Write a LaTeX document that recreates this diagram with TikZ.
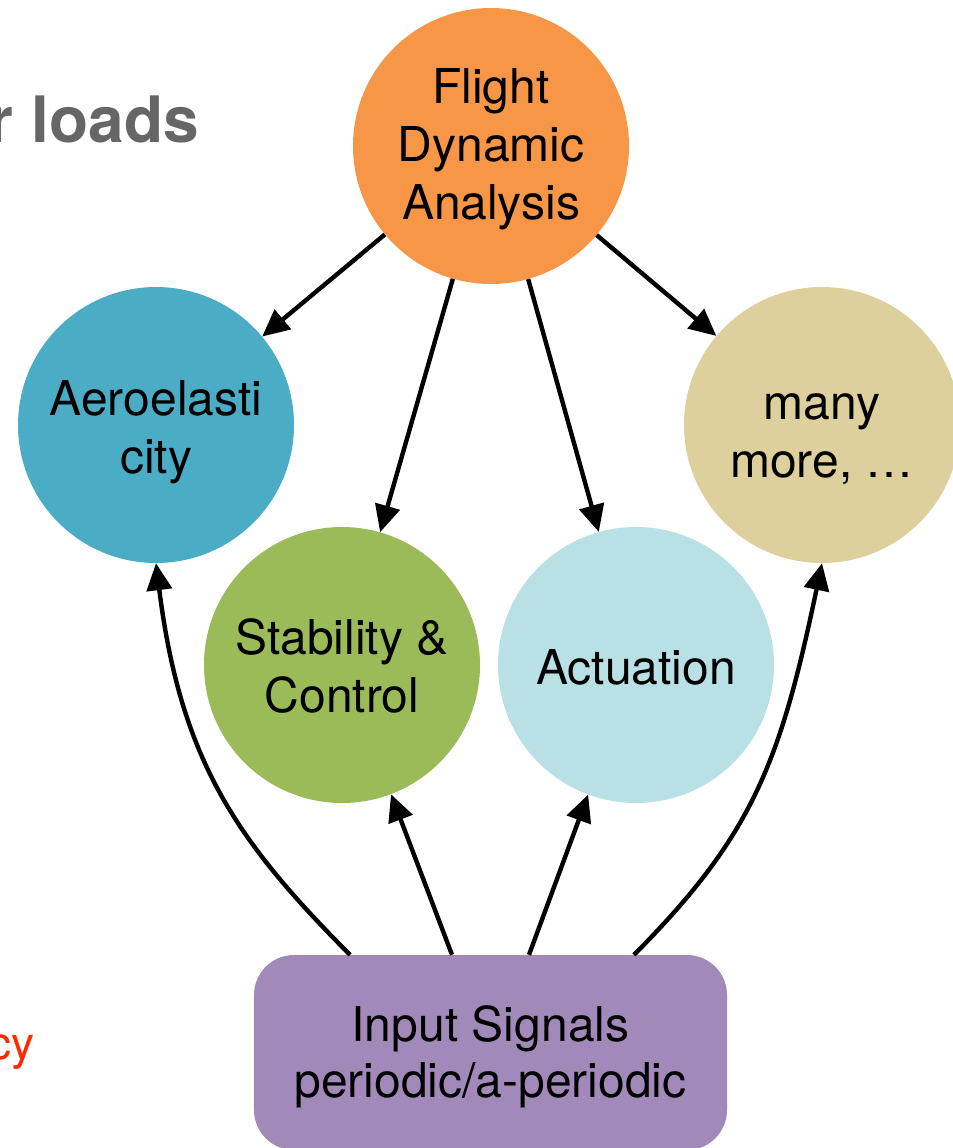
\documentclass[tikz,border=0pt]{standalone}
\usepackage{fontspec}
\setmainfont{TeX Gyre Heros}
\usetikzlibrary{arrows.meta}
\definecolor{cfda}{HTML}{F79646}
\definecolor{caero}{HTML}{4BACC6}
\definecolor{cmany}{HTML}{DDD09C}
\definecolor{cstab}{HTML}{9BBB59}
\definecolor{cact}{HTML}{B9E0E4}
\definecolor{cinput}{HTML}{A18AB9}
\definecolor{cgraytext}{HTML}{666666}
\definecolor{credtext}{HTML}{FF2A00}
\newcommand\mytop[1]{\rule{0pt}{#1}}
\begin{document}
\begin{tikzpicture}[x=1bp,y=-1bp,
  bubble/.style={circle,minimum size=276bp,inner sep=0pt,align=center,
    font=\fontsize{48bp}{58bp}\selectfont,text=black},
  inbox/.style={rectangle,rounded corners=40bp,minimum width=473bp,minimum height=195bp,
    inner sep=0pt,align=center,font=\fontsize{48bp}{56bp}\selectfont,text=black,fill=cinput},
  arr/.style={line width=4.4bp,draw=black,-{Triangle[length=27bp,width=25bp]}}]
\useasboundingbox (0,0) rectangle (953,1148);
\node[bubble,fill=cfda] (fda) at (491,146) {\mytop{41bp}Flight\\Dynamic\\Analysis};
\node[bubble,fill=caero] (aero) at (156,425) {\mytop{50bp}Aeroelasti\\city};
\node[bubble,fill=cmany] (many) at (822,425) {\mytop{54bp}many\\more, …};
\node[bubble,fill=cstab] (stab) at (342,665) {\mytop{37bp}Stability \&\\Control};
\node[bubble,fill=cact] (act) at (636,665) {\mytop{39bp}Actuation};
\node[inbox] (in) at (490.5,1052.5) {\mytop{45bp}Input Signals\\periodic/a-periodic};
\node[anchor=base east,inner sep=0pt,text=cgraytext,font=\fontsize{64bp}{70bp}\selectfont\bfseries] (title) at (199,142) {r loads};
\node[anchor=base east,inner sep=0pt,text=credtext,font=\fontsize{46bp}{52bp}\selectfont] (cy) at (35,1059) {cy};
\draw[arr] (fda) -- (aero);
\draw[arr] (fda) -- (stab);
\draw[arr] (fda) -- (act);
\draw[arr] (fda) -- (many);
\coordinate (s1) at ([xshift=-140.5bp]in.north);
\coordinate (s2) at ([xshift=-38.5bp]in.north);
\coordinate (s3) at ([xshift=38.5bp]in.north);
\coordinate (s4) at ([xshift=143.5bp]in.north);
\draw[arr] (s1) .. controls (240,844) and (181,764) .. (aero.south);
\draw[arr] (s2) -- (stab);
\draw[arr] (s3) -- (act);
\draw[arr] (s4) .. controls (752,836) and (780,764) .. (many.south);
\end{tikzpicture}
\end{document}
